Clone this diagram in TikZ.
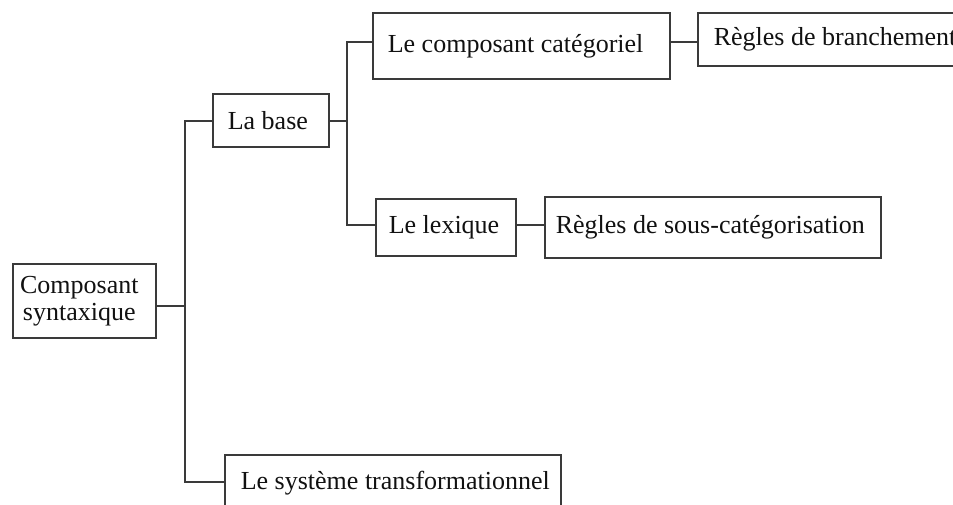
\documentclass[tikz,border=0pt]{standalone}
\usepackage{fontspec}
\setmainfont{Liberation Serif}
\definecolor{linec}{HTML}{3A3A3A}
\definecolor{textc}{HTML}{111111}
\newcommand\lftbox[2]{\makebox[#1][l]{#2}}
\begin{document}
\begin{tikzpicture}[x=1pt,y=-1pt,
  font=\fontsize{26}{27}\selectfont,
  box/.style={draw=linec, line width=1.6pt, text=textc, anchor=north west, inner ysep=0pt},
  conn/.style={draw=linec, line width=1.6pt}]
\useasboundingbox (0,0) rectangle (953,504);
\clip (0,0) rectangle (953,504);
% nodes
\node[box, inner xsep=9pt, minimum width=143pt, minimum height=74pt, align=left, text width=125pt] (cs) at (12,263) {\makebox[115pt]{Composant}\\\makebox[115pt]{syntaxique}};
\node[box, inner xsep=15pt, minimum height=53pt] (base) at (212,93) {\lftbox{86pt}{La base}};
\node[box, inner xsep=15pt, minimum height=66pt] (cat) at (372,12) {\lftbox{267pt}{Le composant catégoriel}};
\node[box, inner xsep=16pt, minimum height=53pt] (br) at (697,12) {\lftbox{260pt}{Règles de branchement}};
\node[box, inner xsep=13pt, minimum height=57pt] (lex) at (375,198) {\lftbox{114pt}{Le lexique}};
\node[box, inner xsep=11pt, minimum height=61pt] (sc) at (544,196) {\lftbox{314pt}{Règles de sous-catégorisation}};
\node[box, inner xsep=16pt, minimum height=56pt] (sys) at (224,454) {\lftbox{304pt}{Le système transformationnel}};
% junctions
\coordinate (t1) at (185,121);
\coordinate (tc) at (185,306);
\coordinate (t2) at (185,482);
\coordinate (u1) at (347,42);
\coordinate (ub) at (347,121);
\coordinate (u2) at (347,225);
% connectors
\draw[conn] (base.west |- t1) -- (t1) -- (t2) -- (sys.west |- t2);
\draw[conn] (cs.east |- tc) -- (tc);
\draw[conn] (cat.west |- u1) -- (u1) -- (u2) -- (lex.west |- u2);
\draw[conn] (base.east |- ub) -- (ub);
\draw[conn] (cat.east |- u1) -- (br.west |- u1);
\draw[conn] (lex.east |- u2) -- (sc.west |- u2);
\end{tikzpicture}
\end{document}
